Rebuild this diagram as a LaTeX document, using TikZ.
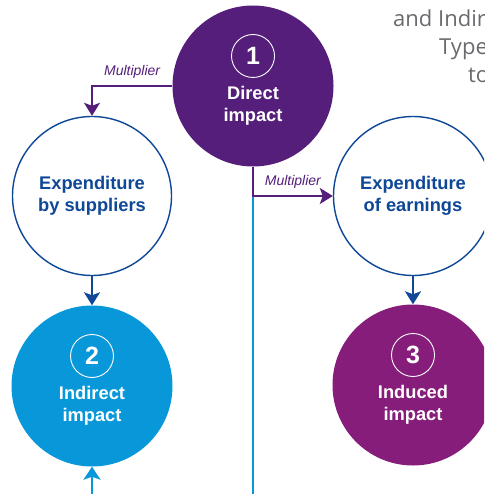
\documentclass[tikz,border=0pt]{standalone}
\usepackage{fontspec}
\setmainfont{Liberation Sans}
\newfontfamily\greyfont{Open Sans}
\usetikzlibrary{arrows.meta}
\definecolor{dirPurple}{RGB}{84,30,122}
\definecolor{indBlue}{RGB}{8,152,218}
\definecolor{incPurple}{RGB}{134,29,122}
\definecolor{darkBlue}{RGB}{14,72,150}
\definecolor{headGrey}{RGB}{105,106,110}

\begin{document}
\begin{tikzpicture}
[x=1pt,y=-1pt,
  impactDecorate/.style={shape=circle,minimum size=161pt,inner sep=0pt},
  spendDecorate/.style={shape=circle,minimum size=159pt,inner sep=0pt,draw=darkBlue,
    line width=1.4pt,fill=white,text=darkBlue,align=center,
    font=\fontsize{18.3}{21.5}\selectfont\bfseries},
  ringDecorate/.style={shape=circle,minimum size=43pt,inner sep=0pt,draw=white,
    line width=0.9pt,text=white,font=\fontsize{25}{25}\selectfont\bfseries},
  textDecorate/.style={text=white,align=center,inner sep=0pt,
    font=\fontsize{18.3}{21.5}\selectfont\bfseries},
  multDecorate/.style={text=dirPurple,inner sep=0pt,
    font=\fontsize{14}{14}\selectfont\itshape},
  headDecorate/.style={text=headGrey,anchor=base west,inner sep=0pt,
    font=\greyfont\fontsize{22}{22}\selectfont},
  purpleArrow/.style={draw=dirPurple,line width=2pt,
    -{Stealth[length=13pt,width=16pt,inset=3pt]}},
  blueArrow/.style={draw=darkBlue,line width=2.2pt,
    -{Stealth[length=13pt,width=16pt,inset=3pt]}},
  lineDecorate/.style={draw=indBlue,line width=2.4pt}]
\useasboundingbox (0,0) rectangle (484,494);
\clip (0,0) rectangle (484,494);
%% heading
\node[headDecorate] (head1) at (393,27) {and Indir};
\node[headDecorate] (head2) at (439,55) {Type};
\node[headDecorate] (head3) at (468,83) {to};
%% circles
\node[impactDecorate,fill=dirPurple] (direct) at (253,86) {};
\node[spendDecorate] (supp) at (92,196) {Expenditure\\by suppliers};
\node[spendDecorate] (earn) at (413,196) {Expenditure\\of earnings};
\node[impactDecorate,fill=indBlue] (indirect) at (92,386) {};
\node[impactDecorate,fill=incPurple] (induced) at (413,385) {};
\foreach \nodename/\num/\txt in {direct/1/Direct, indirect/2/Indirect, induced/3/Induced}
{
  \node[ringDecorate] (\nodename ring) at ([yshift=30pt]\nodename.center) {\num};
  \node[textDecorate] (\nodename text) at ([yshift=-20pt]\nodename.center) {\txt\\impact};
}
%% connectors
\coordinate (split) at (direct.south |- earn.west);
\coordinate (base) at (253,494);
\coordinate (foot) at (92,494);
\path[lineDecorate] (split) -- (base);
\path[purpleArrow] (direct.west) -| (supp.north)
  node[multDecorate,pos=0.25,above=7pt] {Multiplier};
\path[purpleArrow] (direct.south) |- (earn.west)
  node[multDecorate,pos=0.75,above=7pt] {Multiplier};
\path[blueArrow] (supp) -- (indirect);
\path[blueArrow] (earn) -- (induced);
\path[lineDecorate,-{Stealth[length=13pt,width=17pt,inset=3pt]}] (foot) -- (indirect.south);
\end{tikzpicture}
\end{document}
